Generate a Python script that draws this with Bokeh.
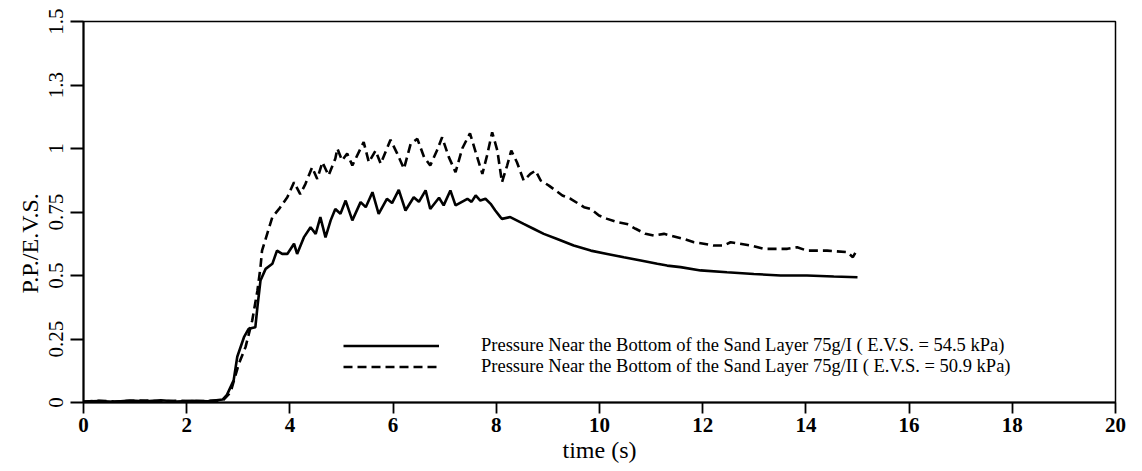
import math
from bokeh.plotting import figure
from bokeh.models import Range1d, FixedTicker, Title
from bokeh.embed import file_html
from bokeh.resources import INLINE

# ---- data ----
t_solid = [0.0, 0.3, 0.6, 0.9, 1.2, 1.5, 1.8, 2.1, 2.4, 2.7, 2.78, 2.91, 2.98, 3.11, 3.2, 3.33, 3.37, 3.43,
           3.53, 3.66, 3.75, 3.85, 3.95, 4.08, 4.14, 4.27, 4.4, 4.5, 4.59, 4.69, 4.79, 4.88, 4.98,
           5.08, 5.21, 5.37, 5.47, 5.6, 5.72, 5.88, 5.98, 6.11, 6.24, 6.4, 6.5, 6.63, 6.72, 6.89,
           6.98, 7.11, 7.21, 7.44, 7.52, 7.6, 7.69, 7.79, 7.89, 7.98, 8.08, 8.11, 8.27, 8.53, 8.72,
           8.92, 9.18, 9.5, 9.83, 10.15, 10.47, 10.8, 11.12, 11.31, 11.57, 11.96, 12.47, 12.99,
           13.51, 14.02, 14.54, 15.0]
v_solid = [0.004, 0.006, 0.003, 0.008, 0.005, 0.009, 0.004, 0.007, 0.005, 0.012, 0.03, 0.087, 0.18, 0.257,
           0.29, 0.296, 0.375, 0.48, 0.526, 0.546, 0.598, 0.585, 0.585, 0.625, 0.585, 0.65, 0.69,
           0.664, 0.73, 0.65, 0.717, 0.762, 0.743, 0.795, 0.717, 0.789, 0.769, 0.828, 0.743,
           0.802, 0.785, 0.837, 0.756, 0.808, 0.79, 0.835, 0.762, 0.806, 0.776, 0.835, 0.776,
           0.802, 0.79, 0.815, 0.795, 0.802, 0.782, 0.756, 0.73, 0.723, 0.73, 0.703, 0.684,
           0.664, 0.644, 0.618, 0.598, 0.585, 0.572, 0.559, 0.546, 0.539, 0.533, 0.52, 0.513,
           0.506, 0.5, 0.5, 0.496, 0.493]

t_dash = [0.0, 0.3, 0.6, 0.9, 1.2, 1.5, 1.8, 2.1, 2.4, 2.7, 2.85, 3.01, 3.14, 3.27, 3.37, 3.43, 3.46, 3.56,
          3.66, 3.79, 3.95, 4.08, 4.2, 4.3, 4.43, 4.53, 4.63, 4.75, 4.88, 4.92, 5.01, 5.11, 5.21,
          5.43, 5.53, 5.66, 5.76, 5.95, 6.08, 6.21, 6.34, 6.47, 6.6, 6.72, 6.85, 6.95, 7.08, 7.21,
          7.34, 7.49, 7.63, 7.73, 7.82, 7.92, 8.02, 8.11, 8.21, 8.29, 8.4, 8.53, 8.66, 8.76, 8.86,
          9.02, 9.28, 9.44, 9.7, 9.83, 9.99, 10.15, 10.34, 10.53, 10.7, 10.89, 11.05, 11.25,
          11.63, 11.83, 12.02, 12.21, 12.41, 12.54, 12.93, 13.18, 13.64, 13.83, 14.02, 14.41,
          14.8, 14.91, 15.0]
v_dash = [0.003, 0.007, 0.004, 0.006, 0.008, 0.004, 0.007, 0.005, 0.006, 0.008, 0.04, 0.152, 0.218, 0.323,
          0.44, 0.533, 0.598, 0.664, 0.73, 0.762, 0.808, 0.867, 0.82, 0.86, 0.926, 0.88, 0.946,
          0.894, 0.96, 1.0, 0.953, 0.98, 0.933, 1.025, 0.946, 0.992, 0.94, 1.034, 0.98, 0.92,
          1.018, 1.038, 0.966, 0.933, 0.992, 1.044, 0.966, 0.907, 1.0, 1.06, 0.966, 0.9, 0.972,
          1.064, 0.992, 0.867, 0.933, 0.992, 0.946, 0.874, 0.9, 0.913, 0.874, 0.854, 0.815,
          0.802, 0.769, 0.762, 0.736, 0.723, 0.71, 0.703, 0.684, 0.664, 0.657, 0.664, 0.644,
          0.631, 0.625, 0.618, 0.618, 0.631, 0.618, 0.605, 0.605, 0.611, 0.598, 0.598, 0.592,
          0.572, 0.605]

x_ticks = [0, 2, 4, 6, 8, 10, 12, 14, 16, 18, 20]
y_ticks = [0, 0.25, 0.5, 0.75, 1, 1.25, 1.5]
y_tick_labels = ["0", "0.25", "0.5", "0.75", "1", "1.3", "1.5"]

label_solid = "Pressure Near the Bottom of the Sand Layer 75g/I ( E.V.S. = 54.5 kPa)"
label_dash = "Pressure Near the Bottom of the Sand Layer 75g/II ( E.V.S. = 50.9 kPa)"

SERIF = "Liberation Serif"

p = figure(width=1142, height=471, output_backend="svg", toolbar_location=None,
           x_range=Range1d(0, 20), y_range=Range1d(0, 1.5),
           min_border_left=83, min_border_right=27, min_border_top=21, min_border_bottom=69)
p.background_fill_color = "white"
p.border_fill_color = "white"
p.outline_line_color = "black"
p.outline_line_width = 1.5
p.xgrid.visible = False
p.ygrid.visible = False

p.line(t_solid, v_solid, line_color="black", line_width=2.6, legend_label=label_solid)
p.line(t_dash, v_dash, line_color="black", line_width=2.6, line_dash="9 5", legend_label=label_dash)

# x axis
xa = p.xaxis[0]
xa.ticker = FixedTicker(ticks=x_ticks)
xa.minor_tick_line_color = None
xa.major_tick_out = 11
xa.major_tick_in = 0
xa.major_tick_line_width = 1.8
xa.axis_line_width = 2
xa.major_label_standoff = 4
xa.major_label_text_font = SERIF
xa.major_label_text_font_style = "bold"
xa.major_label_text_font_size = "21px"
xa.major_label_text_color = "black"
xa.axis_label = "time (s)"
xa.axis_label_text_font = SERIF
xa.axis_label_text_font_style = "normal"
xa.axis_label_text_font_size = "24px"
xa.axis_label_text_color = "black"
xa.axis_label_standoff = 2

# y axis
ya = p.yaxis[0]
ya.ticker = FixedTicker(ticks=y_ticks)
ya.major_label_overrides = {t: s for t, s in zip(y_ticks, y_tick_labels)}
ya.minor_tick_line_color = None
ya.major_tick_out = 13
ya.major_tick_in = 0
ya.major_tick_line_width = 1.8
ya.axis_line_width = 2
ya.major_label_orientation = "vertical"
ya.major_label_standoff = 8
ya.major_label_text_font = SERIF
ya.major_label_text_font_size = "21px"
ya.major_label_text_color = "black"

ytitle = Title(text="P.P./E.V.S.", align="left", offset=109, standoff=6,
               text_font=SERIF, text_font_size="24px", text_font_style="normal",
               text_color="black")
p.add_layout(ytitle, "left")

# legend
lg = p.legend[0]
lg.location = (260, 25)
lg.border_line_color = None
lg.background_fill_alpha = 0
lg.padding = 0
lg.margin = 0
lg.spacing = 0
lg.glyph_width = 96
lg.glyph_height = 19
lg.label_height = 19
lg.label_standoff = 42
lg.label_text_font = SERIF
lg.label_text_font_size = "18.5px"
lg.label_text_color = "black"

open("out.html", "w").write(file_html(p, INLINE))
